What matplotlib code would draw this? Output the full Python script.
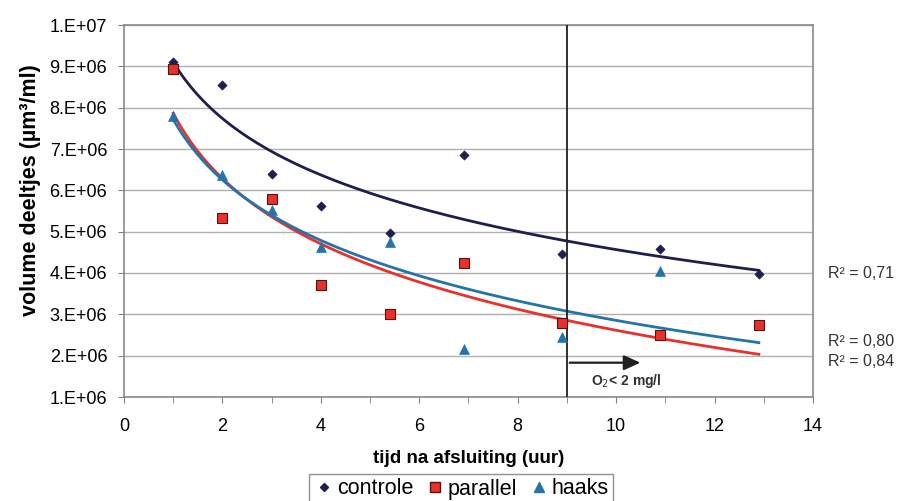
import numpy as np
import matplotlib
matplotlib.use("Agg")
import matplotlib.pyplot as plt
from matplotlib.lines import Line2D

plt.rcParams['font.family'] = ['Liberation Sans', 'DejaVu Sans']

# measurements: time after closing (hours) vs particle volume (um^3/ml)
t_controle = [1.0, 2.0, 3.0, 4.0, 5.4, 6.9, 8.9, 10.9, 12.9]
v_controle = [9.10e6, 8.56e6, 6.39e6, 5.62e6, 4.96e6, 6.85e6, 4.46e6, 4.58e6, 3.97e6]

t_parallel = [1.0, 2.0, 3.0, 4.0, 5.4, 6.9, 8.9, 10.9, 12.9]
v_parallel = [8.93e6, 5.34e6, 5.80e6, 3.70e6, 3.00e6, 4.25e6, 2.78e6, 2.49e6, 2.74e6]

t_haaks = [1.0, 2.0, 3.0, 4.0, 5.4, 6.9, 8.9, 10.9]
v_haaks = [7.80e6, 6.37e6, 5.52e6, 4.63e6, 4.75e6, 2.15e6, 2.45e6, 4.05e6]

r2_labels = ["R\u00b2 = 0,71", "R\u00b2 = 0,80", "R\u00b2 = 0,84"]
y_ticks = [1e6, 2e6, 3e6, 4e6, 5e6, 6e6, 7e6, 8e6, 9e6, 1e7]
y_ticklabels = ["1.E+06", "2.E+06", "3.E+06", "4.E+06", "5.E+06",
                "6.E+06", "7.E+06", "8.E+06", "9.E+06", "1.E+07"]
x_ticks = [0, 2, 4, 6, 8, 10, 12, 14]
o2_limit_time = 9.0

c_controle = "#1e1f4e"
c_parallel = "#e8302c"
c_haaks = "#2474a8"
grid_c = "#b0b0b0"

fig = plt.figure(figsize=(9.04, 5.01), dpi=100)
ax = fig.add_axes([124/904, 1 - 397/501, (813-124)/904, (397-25)/501])

ax.set_xlim(0, 14)
ax.set_ylim(1e6, 1e7)

# horizontal gridlines
for yv in y_ticks:
    ax.axhline(yv, color=grid_c, lw=1.0, zorder=1)

def log_fit(t, v):
    a, b = np.polyfit(np.log(t), v, 1)
    return a, b

xs = np.linspace(min(t_controle), max(t_controle), 200)
for t, v, c in [(t_controle, v_controle, c_controle),
                (t_parallel, v_parallel, c_parallel),
                (t_haaks, v_haaks, c_haaks)]:
    a, b = log_fit(t, v)
    ax.plot(xs, a * np.log(xs) + b, color=c, lw=2.0, zorder=3)

ax.scatter(t_controle, v_controle, marker="D", s=22, color=c_controle,
           edgecolors=c_controle, linewidths=0.5, zorder=4)
ax.scatter(t_parallel, v_parallel, marker="s", s=55, color=c_parallel,
           edgecolors="#5a1010", linewidths=0.8, zorder=5)
ax.scatter(t_haaks, v_haaks, marker="^", s=50, color=c_haaks,
           edgecolors=c_haaks, linewidths=0.5, zorder=6)

# oxygen threshold marker
ax.axvline(o2_limit_time, color="#202020", lw=1.3, zorder=3)
ax.annotate("", xy=(10.55, 1.83e6), xytext=(o2_limit_time, 1.83e6),
            arrowprops=dict(arrowstyle="-|>,head_length=1.0,head_width=0.45",
                            color="#202020", lw=1.6), zorder=4)
ax.text(10.2, 1.38e6, "O$_2$< 2 mg/l", fontsize=10, fontweight="bold",
        ha="center", va="center", color="#303030")

ax.set_yticks(y_ticks)
ax.set_yticklabels(y_ticklabels, fontsize=13)
ax.set_xticks(x_ticks)
ax.set_xticklabels([str(x) for x in x_ticks], fontsize=13)
ax.set_xticks(np.arange(0, 15, 1), minor=True)
ax.tick_params(axis="x", which="both", direction="out", length=4,
               color="#808080", pad=11)
ax.tick_params(axis="y", direction="out", length=4, color="#808080", pad=8)
for s in ax.spines.values():
    s.set_color("#8a8a8a")
    s.set_linewidth(1.2)

ax.set_xlabel("tijd na afsluiting (uur)", fontsize=13.5, fontweight="bold",
              labelpad=11)
ax.set_ylabel("volume deeltjes (\u00b5m\u00b3/ml)", fontsize=15.5,
              fontweight="bold", labelpad=6, y=0.555)

# R^2 annotations beside the plot area
fig.text(828/904, 1 - 273/501, r2_labels[0], fontsize=11.5, va="center", ha="left", color="#333333")
fig.text(828/904, 1 - 341/501, r2_labels[1], fontsize=11.5, va="center", ha="left", color="#333333")
fig.text(828/904, 1 - 362/501, r2_labels[2], fontsize=11.5, va="center", ha="left", color="#333333")

handles = [
    Line2D([], [], marker="D", ls="", color=c_controle, markersize=4),
    Line2D([], [], marker="s", ls="", color=c_parallel, markeredgecolor="#5a1010",
           markersize=7),
    Line2D([], [], marker="^", ls="", color=c_haaks, markersize=7),
]
fig.legend(handles, ["controle", "parallel", "haaks"], loc="center",
           bbox_to_anchor=(0.51, 1 - 489/501), ncol=3, fontsize=15.5,
           frameon=True, fancybox=False, edgecolor="#777777",
           handletextpad=0.1, columnspacing=0.5, handlelength=1.0,
           borderpad=0.2)

fig.savefig("out.png", dpi=100)
